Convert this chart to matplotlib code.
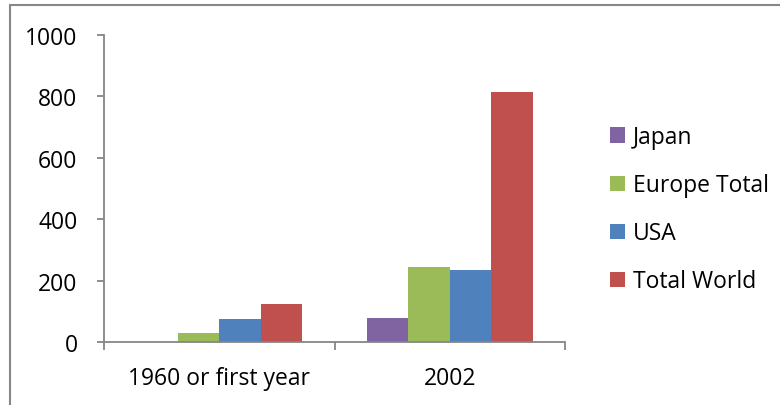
import numpy as np
import matplotlib.pyplot as plt
from matplotlib.patches import Rectangle

plt.rcParams['font.family'] = ['Open Sans', 'DejaVu Sans']

categories = ['1960 or first year', '2002']
series = ['Japan', 'Europe Total', 'USA', 'Total World']
japan = [0, 78]
europe = [29, 244]
usa = [75, 235]
world = [123, 813]
colors = ['#8064A2', '#9BBB59', '#4F81BD', '#C0504D']

values = [japan, europe, usa, world]
axis_grey = '#868686'
fs = 16.5

fig = plt.figure(figsize=(7.8, 4.06), dpi=100)
ax = fig.add_axes([104/780, 1 - 343/406, (565 - 104)/780, (343 - 36)/406])

x = np.arange(len(categories))
w = 0.18
for i, (name, vals) in enumerate(zip(series, values)):
    ax.bar(x + (i - 1.5)*w, vals, w, color=colors[i], label=name)

ax.set_xlim(-0.5, 1.5)
ax.set_ylim(0, 1000)
ax.set_yticks(range(0, 1001, 200))

# group boundaries as major ticks, labels centred via minor ticks
ax.set_xticks([-0.5, 0.5, 1.5])
ax.set_xticklabels([])
ax.set_xticks(x, minor=True)
ax.set_xticklabels(categories, minor=True)
ax.tick_params(axis='x', which='major', length=6, color=axis_grey, width=1.3)
ax.tick_params(axis='x', which='minor', length=0, pad=17, labelsize=fs)
ax.tick_params(axis='y', length=5, color=axis_grey, width=1.3, pad=14, labelsize=fs)

for s in ['top', 'right']:
    ax.spines[s].set_visible(False)
for s in ['left', 'bottom']:
    ax.spines[s].set_color(axis_grey)
    ax.spines[s].set_linewidth(1.3)
ax.spines['bottom'].set_zorder(3)

leg = fig.legend(loc='upper left', bbox_to_anchor=(601/780, 1 - 117/406),
                 frameon=False, fontsize=fs, handlelength=0.65, handleheight=0.65,
                 handletextpad=0.35, labelspacing=1.05, borderaxespad=0)

# chart area border
fig.patches.append(Rectangle((9.5/780, -0.1), 1.1, 1.1 - 5.5/406,
                             transform=fig.transFigure, fill=False,
                             edgecolor='#878787', linewidth=1.5))

fig.savefig('out.png', dpi=100)
